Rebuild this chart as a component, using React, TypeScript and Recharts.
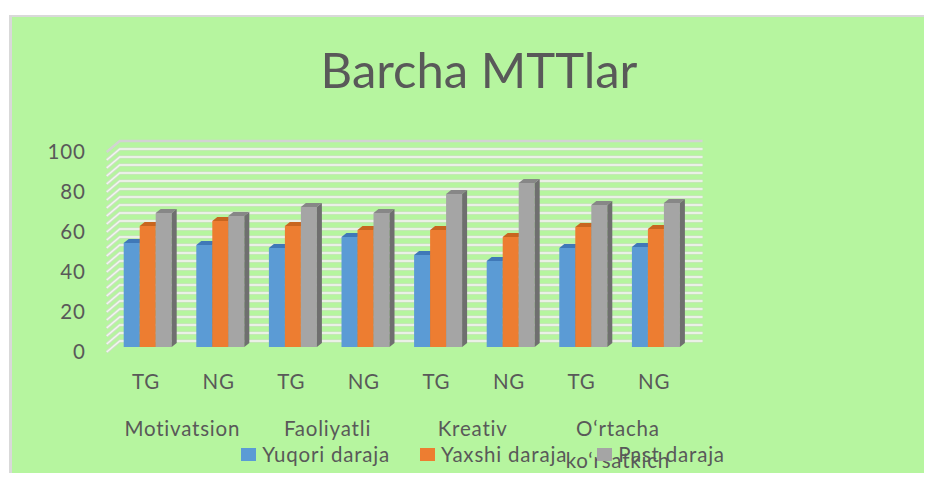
import React from "react";
import { BarChart, Bar, XAxis, YAxis, CartesianGrid } from "recharts";

// guruhlar va kichik guruhlar (TG / NG)
const groups = ["Motivatsion", "Faoliyatli", "Kreativ", "O‘rtacha ko‘rsatkich"];
const subgroups = ["TG", "NG"];

// qiymatlar rasmdan taxminan o'qilgan
const yuqoriDaraja = [52, 51, 49.5, 55, 46, 43, 49.5, 50];
const yaxshiDaraja = [60.5, 63, 60.5, 58.5, 58.5, 55, 60, 59];
const pastDaraja = [67, 65.5, 70, 67, 76.5, 82, 71, 72];

const yTicks = [0, 20, 40, 60, 80, 100];
const wallLines = [0, 4, 8, 12, 16, 20, 24, 28, 32, 36, 40, 44, 48, 52, 56, 60, 64, 68, 72, 76, 80, 84, 88, 92, 96, 100];

const W = 932;
const H = 481;
const MARGIN = { top: 147, right: 239.5, bottom: 104, left: 51.7 };
const FONT = "Lato, 'Open Sans', sans-serif";
const TEXT = "#595959";
const FS = 20.5;
const LS = 0.8;

const series = [
  { key: "yuqori", name: "Yuqori daraja", face: "#5b9bd5", side: "#41719c", top: "#3f78b8" },
  { key: "yaxshi", name: "Yaxshi daraja", face: "#ed7d31", side: "#ae5a21", top: "#c8651f" },
  { key: "past", name: "Past daraja", face: "#a5a5a5", side: "#6f6f6f", top: "#878787" },
];

const rows = yuqoriDaraja.map((_, i) => ({
  sub: subgroups[i % 2],
  group: groups[Math.floor(i / 2)],
  yuqori: yuqoriDaraja[i],
  yaxshi: yaxshiDaraja[i],
  past: pastDaraja[i],
}));

const DX = 5;
const DY = 4;

function Bar3D(p: any) {
  const { x, y, width: w, height: h, face, side, top } = p;
  if (x == null || !h) return null;
  return (
    <g>
      <rect x={x} y={y} width={w} height={h} fill={face} />
      <path d={`M${x},${y} L${x + DX},${y - DY} L${x + w + DX},${y - DY} L${x + w},${y} Z`} fill={top} />
      <path d={`M${x + w},${y} L${x + w + DX},${y - DY} L${x + w + DX},${y + h - DY} L${x + w},${y + h} Z`} fill={side} />
    </g>
  );
}

// orqa devor chiziqlari: har 4 birlikda
function wallCoords({ yAxis, offset }: any) {
  if (yAxis && typeof yAxis.scale === "function") {
    return wallLines.map((v) => yAxis.scale(v));
  }
  return wallLines.map((v) => offset.top + offset.height * (1 - v / 100));
}

function WallLine(p: any) {
  const { x1, x2, y1 } = p;
  const xl = Math.min(x1, x2);
  const xr = Math.max(x1, x2);
  const d = `M${xl - 5},${y1 + 5} L${xl + 8},${y1 - 6} L${xr + 10},${y1 - 6}`;
  const isTop = Math.abs(y1 - MARGIN.top) < 1;
  if (isTop) {
    return <path d={d} fill="none" stroke="#d3d3d3" strokeWidth={2.5} />;
  }
  return (
    <g>
      <path d={d} fill="none" stroke="#d2dccb" strokeWidth={3} />
      <path d={d} fill="none" stroke="#f3f6f1" strokeWidth={1.4} />
    </g>
  );
}

function XTick(p: any) {
  const { x, y, payload, index } = p;
  const half = payload?.offset ?? 36.3;
  const label = rows[index]?.group ?? "";
  const words = label.split(" ");
  return (
    <g>
      <text x={x - 2} y={y + 35} dy="0.355em" textAnchor="middle" fontSize={FS} fill={TEXT} fontFamily={FONT} letterSpacing={LS}>
        {payload.value}
      </text>
      {index % 2 === 0 && (
        <text x={x + half - 2} y={y + 82} textAnchor="middle" fontSize={FS} fill={TEXT} fontFamily={FONT} letterSpacing={LS}>
          {words.map((wd: string, k: number) => (
            <tspan key={k} x={x + half - 2} dy={k === 0 ? "0.355em" : 32}>
              {wd}
            </tspan>
          ))}
        </text>
      )}
    </g>
  );
}

function YTick(p: any) {
  const { x, y, payload } = p;
  return (
    <text x={x} y={y + 5} dy="0.355em" textAnchor="end" fontSize={FS} fill={TEXT} fontFamily={FONT} letterSpacing={LS}>
      {payload.value}
    </text>
  );
}

export default function App() {
  return (
    <div style={{ position: "relative", width: 916, height: 465 }}>
      <div
        style={{
          position: "absolute",
          left: 1,
          top: 7,
          width: 923,
          height: 466,
          boxSizing: "border-box",
          background: "#b6f59f",
          borderTop: "2px solid #d9d9d9",
          borderLeft: "3px solid #d9d9d9",
        }}
      />
      <div style={{ position: "absolute", left: -8, top: -8 }}>
        <BarChart width={W} height={H} data={rows} margin={MARGIN} barGap={0} barSize={16}>
          <CartesianGrid vertical={false} horizontalCoordinatesGenerator={wallCoords} horizontal={WallLine} />
          <XAxis dataKey="sub" axisLine={false} tickLine={false} tickSize={0} tickMargin={0} height={30} tick={XTick} interval={0} />
          <YAxis
            domain={[0, 100]}
            ticks={yTicks}
            axisLine={false}
            tickLine={false}
            tickSize={0}
            tickMargin={26}
            width={60}
            tick={YTick}
            interval={0}
          />
          {series.map((s) => (
            <Bar
              key={s.key}
              dataKey={s.key}
              name={s.name}
              fill={s.face}
              isAnimationActive={false}
              shape={(p: any) => <Bar3D {...p} face={s.face} side={s.side} top={s.top} />}
            />
          ))}
        </BarChart>
      </div>
      <svg width={W} height={H} style={{ position: "absolute", left: -8, top: -8, pointerEvents: "none" }}>
        <text x={479} y={88} textAnchor="middle" fontSize={49} fill={TEXT} fontFamily={FONT}>
          Barcha MTTlar
        </text>
      </svg>
      <div
        style={{
          position: "absolute",
          left: -8,
          top: 434,
          width: 966,
          display: "flex",
          justifyContent: "center",
          gap: 30,
          fontFamily: FONT,
          fontSize: FS,
          letterSpacing: LS,
          color: TEXT,
        }}
      >
        {series.map((s) => (
          <div key={s.key} style={{ display: "flex", alignItems: "center" }}>
            <span style={{ display: "inline-block", width: 15, height: 13, background: s.face, marginRight: 6 }} />
            <span>{s.name}</span>
          </div>
        ))}
      </div>
    </div>
  );
}
